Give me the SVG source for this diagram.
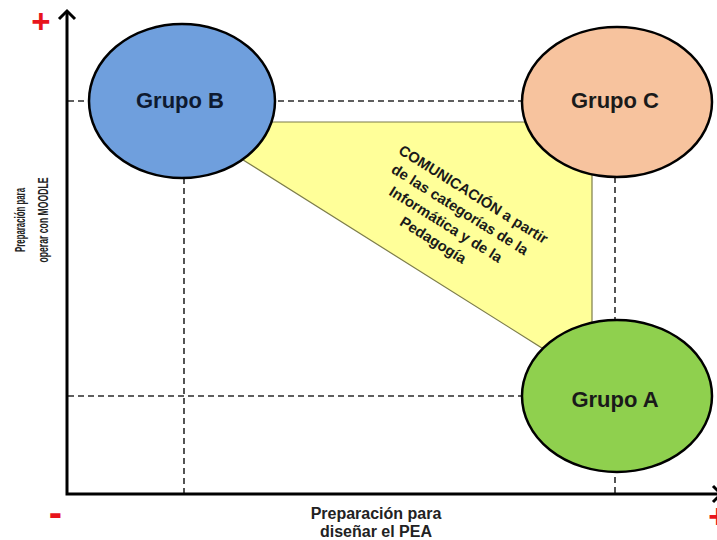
<svg xmlns="http://www.w3.org/2000/svg" width="717" height="540" viewBox="0 0 717 540">
<style>
.dash{stroke:#2a2a2a;stroke-width:1.6;stroke-dasharray:6 4;fill:none}
.axis{stroke:#000;stroke-width:3;fill:none}
.node{stroke:#000;stroke-width:2.5}
.lbl{font-family:"Liberation Sans",Arial,sans-serif;font-weight:bold;font-size:22px;text-anchor:middle}
.ax{font-family:"Liberation Sans",Arial,sans-serif;font-weight:bold;fill:#222}
.sign{font-family:"Liberation Sans",Arial,sans-serif;font-weight:bold;fill:#e8141c;text-anchor:middle}
.com{font-family:"Liberation Sans",Arial,sans-serif;font-weight:bold;font-size:14.8px;fill:#1a1a1a}
</style>
<rect width="717" height="540" fill="#fff"/>
<g id="connectors">
  <line class="dash" x1="68" y1="101" x2="522" y2="101"/>
  <line class="dash" x1="68" y1="396" x2="523" y2="396"/>
  <line class="dash" x1="184" y1="178" x2="184" y2="494"/>
  <line class="dash" x1="615" y1="177" x2="615" y2="494"/>
</g>
<g id="comunicacion">
  <polygon points="255,122 592,122 592,335 542,348 240,158" fill="#ffff99" stroke="#7d7d4a" stroke-width="1.2"/>
  <g transform="translate(403,144) rotate(32)">
    <text class="com" x="0" y="10.5">COMUNICACIÓN a partir</text>
    <text class="com" x="4" y="30.5">de las categorías de la</text>
    <text class="com" x="14" y="50.5">Informática y de la</text>
    <text class="com" x="39" y="70.5">Pedagogía</text>
  </g>
</g>
<g id="grupoB">
  <ellipse class="node" cx="182" cy="101" rx="93" ry="77" fill="#6f9fdd"/>
  <text class="lbl" x="180" y="108" fill="#0e1a30">Grupo B</text>
</g>
<g id="grupoC">
  <ellipse class="node" cx="617" cy="102" rx="95" ry="75" fill="#f7c39e"/>
  <text class="lbl" x="615" y="108" fill="#1a1a1a">Grupo C</text>
</g>
<g id="grupoA">
  <ellipse class="node" cx="617" cy="396" rx="95" ry="76" fill="#8fd04e"/>
  <text class="lbl" x="615" y="407" fill="#1a1a1a">Grupo A</text>
</g>
<g id="axes">
  <polyline class="axis" points="67,12 67,494 722,494"/>
  <polyline class="axis" points="59,19 67,11 75,19"/>
  <polyline class="axis" points="713,486 721,494 713,502"/>
  <text class="ax" transform="translate(24.5,220) rotate(-90)" text-anchor="middle" font-size="14" textLength="64" lengthAdjust="spacingAndGlyphs">Preparación para</text>
  <text class="ax" transform="translate(48,220) rotate(-90)" text-anchor="middle" font-size="14" textLength="85" lengthAdjust="spacingAndGlyphs">operar con MOODLE</text>
  <text class="ax" x="376" y="519" text-anchor="middle" font-size="16">Preparación para</text>
  <text class="ax" x="376" y="537" text-anchor="middle" font-size="16">diseñar el PEA</text>
  <text class="sign" x="41" y="33" font-size="33">+</text>
  <text class="sign" x="55.5" y="526" font-size="40">-</text>
  <text class="sign" x="718" y="528" font-size="33">+</text>
</g>
</svg>
